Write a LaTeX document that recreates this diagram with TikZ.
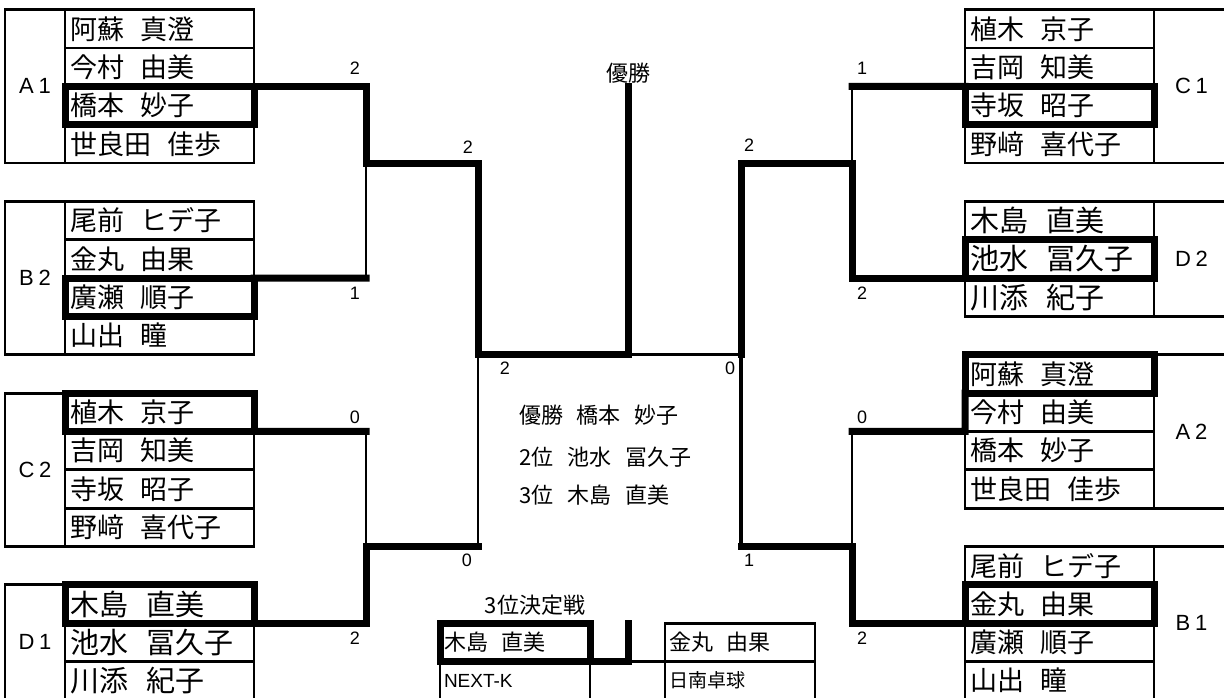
\documentclass[tikz,border=0pt]{standalone}
\usepackage{fontspec}
\usepackage{tikz}
\usetikzlibrary{positioning}
\setmainfont{Noto Sans CJK JP}[WordSpace=2.8]
\newfontfamily\latinfont{Liberation Sans}
\newfontfamily\grpfont{Liberation Sans}[LetterSpace=22]
\tikzstyle{namecell} = [rectangle, draw, line width=2.8pt, outer sep=0pt, inner xsep=5pt, inner ysep=0pt, minimum height=38.35pt, text width=179pt, align=flush left, font=\fontsize{27}{30}\selectfont]
\tikzstyle{bigname} = [font=\fontsize{29}{32}\selectfont]
\tikzstyle{wincell} = [namecell, line width=7pt]
\tikzstyle{groupcell} = [rectangle, draw, line width=2.8pt, outer sep=0pt, minimum width=60pt, font=\grpfont\fontsize{22}{24}\selectfont]
\tikzstyle{tpcell} = [namecell, text width=142pt, inner xsep=4pt, font=\fontsize{22}{26}\selectfont]
\tikzstyle{thickline} = [line width=7pt, line cap=rect]
\tikzstyle{thinline} = [line width=2.8pt]
\tikzstyle{midline} = [line width=4pt]
\tikzstyle{score} = [font=\latinfont\fontsize{18}{20}\selectfont, inner sep=0pt]
\tikzstyle{result} = [font=\fontsize{22}{26}\selectfont, inner sep=0pt]

\begin{document}
\begin{tikzpicture}[x=1pt, y=-1pt]
\useasboundingbox (0,0) rectangle (1224,697);
% Left groups
\node (a1n1) [namecell, anchor=north west] at (65,9.6) {阿蘇 真澄};
\node (a1n2) [namecell, below=0pt of a1n1] {今村 由美};
\node (a1n3) [wincell, below=0pt of a1n2] {橋本 妙子};
\node (a1n4) [namecell, below=0pt of a1n3] {世良田 佳歩};
\node (a1) [groupcell, anchor=north east, minimum height=153.4pt] at (a1n1.north west) {A1};

\node (b2n1) [namecell, anchor=north west] at (65,201.35) {尾前 ヒデ子};
\node (b2n2) [namecell, below=0pt of b2n1] {金丸 由果};
\node (b2n3) [wincell, below=0pt of b2n2] {廣瀬 順子};
\node (b2n4) [namecell, below=0pt of b2n3] {山出 瞳};
\node (b2) [groupcell, anchor=north east, minimum height=153.4pt] at (b2n1.north west) {B2};

\node (c2n1) [wincell, anchor=north west] at (65,393.1) {植木 京子};
\node (c2n2) [namecell, below=0pt of c2n1] {吉岡 知美};
\node (c2n3) [namecell, below=0pt of c2n2] {寺坂 昭子};
\node (c2n4) [namecell, below=0pt of c2n3] {野﨑 喜代子};
\node (c2) [groupcell, anchor=north east, minimum height=153.4pt] at (c2n1.north west) {C2};

\node (d1n1) [wincell, bigname, anchor=north west] at (65,584.85) {木島 直美};
\node (d1n2) [namecell, bigname, below=0pt of d1n1] {池水 冨久子};
\node (d1n3) [namecell, bigname, below=0pt of d1n2] {川添 紀子};
\node (d1) [groupcell, anchor=north east, minimum height=115.05pt] at (d1n1.north west) {D1};

% Right groups
\node (c1n1) [namecell, anchor=north west] at (965,9.6) {植木 京子};
\node (c1n2) [namecell, below=0pt of c1n1] {吉岡 知美};
\node (c1n3) [wincell, below=0pt of c1n2] {寺坂 昭子};
\node (c1n4) [namecell, below=0pt of c1n3] {野﨑 喜代子};
\node (c1) [groupcell, anchor=north west, minimum width=75pt, minimum height=153.4pt] at (c1n1.north east) {C1};

\node (d2n1) [namecell, bigname, anchor=north west] at (965,201.35) {木島 直美};
\node (d2n2) [wincell, bigname, below=0pt of d2n1] {池水 冨久子};
\node (d2n3) [namecell, bigname, below=0pt of d2n2] {川添 紀子};
\node (d2) [groupcell, anchor=north west, minimum width=75pt, minimum height=115.05pt] at (d2n1.north east) {D2};

\node (a2n1) [wincell, anchor=north west] at (965,354.75) {阿蘇 真澄};
\node (a2n2) [namecell, below=0pt of a2n1] {今村 由美};
\node (a2n3) [namecell, below=0pt of a2n2] {橋本 妙子};
\node (a2n4) [namecell, below=0pt of a2n3] {世良田 佳歩};
\node (a2) [groupcell, anchor=north west, minimum width=75pt, minimum height=153.4pt] at (a2n1.north east) {A2};

\node (b1n1) [namecell, anchor=north west] at (965,546.5) {尾前 ヒデ子};
\node (b1n2) [wincell, below=0pt of b1n1] {金丸 由果};
\node (b1n3) [namecell, below=0pt of b1n2] {廣瀬 順子};
\node (b1n4) [namecell, below=0pt of b1n3] {山出 瞳};
\node (b1) [groupcell, anchor=north west, minimum width=75pt, minimum height=153.4pt] at (b1n1.north east) {B1};

% Bracket corners
\coordinate (lq1) at (366,163);
\coordinate (lq2) at (366,278.05);
\coordinate (lq3) at (366,431.45);
\coordinate (lq4) at (366,546.5);
\coordinate (ls1) at (478,163);
\coordinate (ls2) at (478,546.5);
\coordinate (lf) at (478,354.75);
\coordinate (fin) at (628,354.75);
\coordinate (champ) at (628,86.3);
\coordinate (rf) at (741,354.75);
\coordinate (rs1) at (741,163);
\coordinate (rs2) at (741,546.5);
\coordinate (rq1) at (852,163);
\coordinate (rq2) at (852,86.3);
\coordinate (rq3) at (852,431.45);
\coordinate (rq4) at (852,546.5);

\draw[thickline] (a1n3.north east) -| (lq1) -- (ls1) |- (fin) -- (champ);
\draw[thickline] (b2n3.north east) -- (lq2);
\draw[thinline] (lq2) -- (lq1);
\draw[thickline] (c2n1.south east) -- (lq3);
\draw[thinline] (lq3) -- (lq4);
\draw[thickline] (d1n1.south east) -| (lq4) -- (ls2);
\draw[thinline] (ls2) -- (lf);

\draw[thickline] (c1n3.north west) -- (rq2);
\draw[thinline] (rq2) -- (rq1);
\draw[thickline] (d2n2.south west) -| (rq1) -- (rs1) -- (rf);
\draw[thinline] (rf) -- (fin);
\draw[thickline] (a2n1.south west) -- (a2n2.south west) -- (rq3);
\draw[thinline] (rq3) -- (rq4);
\draw[thickline] (b1n2.south west) -| (rq4) -- (rs2);
\draw[midline] (rs2) -- (rf);

\node (yusho) [result, above=3pt of champ] {優勝};

% Scores
\node (sa1) [score] at (355,68) {2};
\node (sb2) [score] at (355,293) {1};
\node (sc2) [score] at (355,417) {0};
\node (sd1) [score] at (355,638) {2};
\node (sl1) [score] at (468,147) {2};
\node (sl2) [score] at (467,560) {0};
\node (sfl) [score] at (505,368) {2};
\node (sfr) [score] at (730,368) {0};
\node (sr1) [score] at (749,145) {2};
\node (sr2) [score] at (749,560) {1};
\node (sc1) [score] at (862,68) {1};
\node (sd2) [score] at (862,293) {2};
\node (sa2) [score] at (862,417) {0};
\node (sb1) [score] at (862,638) {2};

% Results
\node (res1) [result, anchor=west] at (519,415) {優勝 橋本 妙子};
\node (res2) [result, anchor=west] at (519,457) {2位 池水 冨久子};
\node (res3) [result, anchor=west] at (519,495) {3位 木島 直美};

% Third place match
\node (tplbl) [result] at (535,605) {3位決定戦};
\node (tp1) [tpcell, line width=7pt, anchor=north west] at (440,623.2) {木島 直美};
\node (tp3) [tpcell, below=0pt of tp1, font=\latinfont\fontsize{19}{22}\selectfont] {NEXT-K};
\node (tp2) [tpcell, anchor=north west] at (665,623.2) {金丸 由果};
\node (tp4) [tpcell, below=0pt of tp2, font=\fontsize{19}{22}\selectfont] {日南卓球};
\coordinate (tpv) at (628,661.55);
\coordinate (tpt) at (628,623.2);
\draw[thickline] (tp1.south east) -- (tpv) -- (tpt);
\draw[thinline] (tpv) -- (tp2.south west);
\end{tikzpicture}
\end{document}
